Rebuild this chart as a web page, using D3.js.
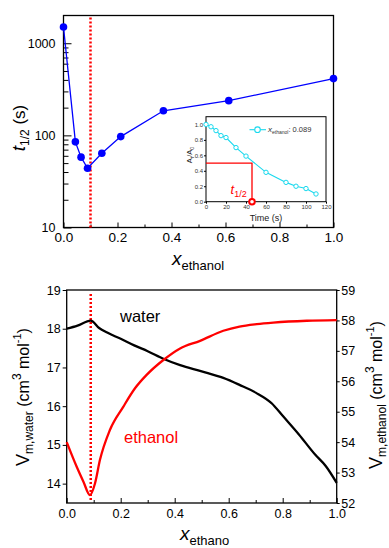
<!DOCTYPE html>
<html>
<head>
<meta charset="utf-8">
<script src="https://cdn.jsdelivr.net/npm/d3@7"></script>
<style>
  body { margin: 0; background: #fff; }
  svg { display: block; font-family: Arial, "Liberation Sans", sans-serif; }
  .axis path, .axis line { stroke: #000; }
</style>
</head>
<body>
<svg id="chart" width="389" height="548"></svg>
<script>
// top: half-life vs ethanol mole fraction
const xEthanol = [0, 0.044, 0.065, 0.089, 0.142, 0.212, 0.37, 0.612, 1.0];
const tHalf = [1500, 85, 58, 44, 64, 97, 185, 238, 413];

// inset: decay at x_ethanol = 0.089
const insetTime = [0, 5, 10, 15, 20, 30, 40, 60, 80, 90, 100, 110];
const insetA = [1.0, 0.97, 0.92, 0.855, 0.83, 0.70, 0.59, 0.38, 0.25, 0.20, 0.17, 0.10];
const tHalfMark = 46;

// bottom: partial molar volumes
const waterX = [0, 0.04, 0.089, 0.12, 0.15, 0.2, 0.25, 0.3, 0.36, 0.42, 0.5, 0.58, 0.64, 0.7, 0.76, 0.8, 0.86, 0.92, 0.96, 1.0];
const waterV = [18.0, 18.08, 18.21, 18.02, 17.9, 17.74, 17.57, 17.42, 17.22, 17.06, 16.9, 16.73, 16.55, 16.35, 16.07, 15.75, 15.27, 14.75, 14.45, 14.02];
const ethX = [0, 0.037, 0.062, 0.086, 0.105, 0.123, 0.16, 0.21, 0.253, 0.296, 0.358, 0.42, 0.494, 0.58, 0.64, 0.704, 0.765, 0.889, 1.0];
const ethV = [54.0, 53.19, 52.7, 52.26, 52.65, 53.41, 54.4, 55.17, 55.77, 56.21, 56.7, 57.08, 57.33, 57.66, 57.8, 57.88, 57.93, 57.99, 58.01];

const svg = d3.select("#chart");
const fontFam = "Arial, 'Liberation Sans'";

// ---------- top chart ----------
const x1 = d3.scaleLinear().domain([0, 1]).range([63.5, 333.5]);
const y1 = d3.scaleLog().domain([10, 2000]).range([227.5, 15.5]);

const topG = svg.append("g");

topG.append("rect")
  .attr("x", x1(0)).attr("y", y1(2000))
  .attr("width", x1(1) - x1(0)).attr("height", y1(10) - y1(2000))
  .attr("fill", "none").attr("stroke", "#000").attr("stroke-width", 1.3);

const minorLog = [20, 30, 40, 50, 60, 70, 80, 90, 200, 300, 400, 500, 600, 700, 800, 900];
topG.append("g").attr("class", "axis")
  .attr("transform", `translate(${x1(0)},0)`)
  .call(d3.axisLeft(y1).tickValues(minorLog).tickSize(-5).tickFormat(""))
  .call(g => g.select(".domain").remove());
topG.append("g").attr("class", "axis")
  .attr("transform", `translate(${x1(0)},0)`)
  .call(d3.axisLeft(y1).tickValues([10, 100, 1000]).tickSize(-8).tickPadding(8).tickFormat(d3.format("d")))
  .call(g => g.select(".domain").remove())
  .call(g => g.selectAll("text").attr("font-size", 12.5).attr("font-family", fontFam));

topG.append("g").attr("class", "axis")
  .attr("transform", `translate(0,${y1(10)})`)
  .call(d3.axisBottom(x1).tickValues([0.1, 0.3, 0.5, 0.7, 0.9]).tickSize(-3).tickFormat(""))
  .call(g => g.select(".domain").remove());
topG.append("g").attr("class", "axis")
  .attr("transform", `translate(0,${y1(10)})`)
  .call(d3.axisBottom(x1).ticks(5).tickSize(-5).tickPadding(5).tickFormat(d3.format(".1f")))
  .call(g => g.select(".domain").remove())
  .call(g => g.selectAll("text").attr("font-size", 13.5).attr("font-family", fontFam));

// dotted marker
topG.append("line")
  .attr("x1", x1(0.1)).attr("x2", x1(0.1))
  .attr("y1", y1(2000) + 2).attr("y2", y1(10))
  .attr("stroke", "#f00").attr("stroke-width", 2.5).attr("stroke-dasharray", "2,2");

const pts = xEthanol.map((d, i) => [d, tHalf[i]]);
topG.append("path")
  .datum(pts)
  .attr("fill", "none").attr("stroke", "#0000ff").attr("stroke-width", 1.3)
  .attr("d", d3.line().x(d => x1(d[0])).y(d => y1(d[1])));
topG.selectAll(".dot").data(pts).enter().append("circle")
  .attr("cx", d => x1(d[0])).attr("cy", d => y1(d[1])).attr("r", 3.8)
  .attr("fill", "#0000ff");

// axis titles
topG.append("text")
  .attr("transform", "translate(25,128) rotate(-90)")
  .attr("text-anchor", "middle")
  .call(t => {
    t.append("tspan").attr("font-style", "italic").attr("font-size", 19).text("t");
    t.append("tspan").attr("font-size", 12).attr("dy", 4).text("1/2");
    t.append("tspan").attr("font-size", 17).attr("dy", -4).text(" (s)");
  });
topG.append("text")
  .attr("x", 198).attr("y", 265).attr("text-anchor", "middle")
  .call(t => {
    t.append("tspan").attr("font-style", "italic").attr("font-size", 19).text("x");
    t.append("tspan").attr("font-size", 13).attr("dy", 5).text("ethanol");
  });

// ---------- inset ----------
const xi = d3.scaleLinear().domain([0, 120]).range([206, 326]);
const yi = d3.scaleLinear().domain([0, 1.1]).range([201.7, 116.7]);
const inset = svg.append("g");
inset.append("rect")
  .attr("x", xi(0)).attr("y", yi(1.1))
  .attr("width", xi(120) - xi(0)).attr("height", yi(0) - yi(1.1))
  .attr("fill", "#fff").attr("stroke", "#000").attr("stroke-width", 1);
inset.append("g").attr("class", "axis")
  .attr("transform", `translate(${xi(0)},0)`)
  .call(d3.axisLeft(yi).tickValues([0, 0.2, 0.4, 0.6, 0.8, 1.0]).tickSize(2).tickPadding(1).tickFormat(d3.format(".1f")))
  .call(g => g.select(".domain").remove())
  .call(g => g.selectAll("text").attr("font-size", 6).attr("font-family", fontFam).attr("fill", "#333"));
inset.append("g").attr("class", "axis")
  .attr("transform", `translate(0,${yi(0)})`)
  .call(d3.axisBottom(xi).tickValues([0, 20, 40, 60, 80, 100, 120]).tickSize(2).tickPadding(1))
  .call(g => g.select(".domain").remove())
  .call(g => g.selectAll("text").attr("font-size", 6).attr("font-family", fontFam).attr("fill", "#333"));

inset.append("text")
  .attr("x", 266).attr("y", 220.5).attr("text-anchor", "middle")
  .attr("font-size", 9).attr("fill", "#222").text("Time (s)");
inset.append("text")
  .attr("transform", "translate(192,155) rotate(-90)")
  .attr("text-anchor", "middle").attr("font-size", 7.5).attr("fill", "#222")
  .call(t => {
    t.append("tspan").text("A");
    t.append("tspan").attr("font-size", 5).attr("dy", 2).text("t");
    t.append("tspan").attr("dy", -2).text("/A");
    t.append("tspan").attr("font-size", 5).attr("dy", 2).text("0");
  });

// half-life construction
inset.append("path")
  .attr("fill", "none").attr("stroke", "#f00").attr("stroke-width", 1.3)
  .attr("d", `M${xi(0)},${yi(0.5)}H${xi(tHalfMark)}V${yi(0)}`);

const cyan = "#19d9ee";
const ipts = insetTime.map((d, i) => [d, insetA[i]]);
inset.append("path")
  .datum(ipts)
  .attr("fill", "none").attr("stroke", cyan).attr("stroke-width", 1.1)
  .attr("d", d3.line().x(d => xi(d[0])).y(d => yi(d[1])));
inset.selectAll(".idot").data(ipts).enter().append("circle")
  .attr("cx", d => xi(d[0])).attr("cy", d => yi(d[1])).attr("r", 2.2)
  .attr("fill", "#fff").attr("stroke", cyan).attr("stroke-width", 1);

inset.append("circle")
  .attr("cx", xi(tHalfMark)).attr("cy", yi(0)).attr("r", 2.8)
  .attr("fill", "#fff").attr("stroke", "#f00").attr("stroke-width", 2);

inset.append("text")
  .attr("x", 230.5).attr("y", 194).attr("fill", "#f00")
  .call(t => {
    t.append("tspan").attr("font-style", "italic").attr("font-size", 13).text("t");
    t.append("tspan").attr("font-size", 9).attr("dy", 3).text("1/2");
  });

// legend
inset.append("line")
  .attr("x1", 249.5).attr("x2", 266).attr("y1", 129.7).attr("y2", 129.7)
  .attr("stroke", cyan).attr("stroke-width", 1.1);
inset.append("circle")
  .attr("cx", 257.5).attr("cy", 129.7).attr("r", 2.8)
  .attr("fill", "#fff").attr("stroke", cyan).attr("stroke-width", 1.1);
inset.append("text")
  .attr("x", 268).attr("y", 132).attr("fill", "#333")
  .call(t => {
    t.append("tspan").attr("font-style", "italic").attr("font-size", 8).text("x");
    t.append("tspan").attr("font-size", 5).attr("dy", 1.5).text("ethanol");
    t.append("tspan").attr("font-size", 7.5).attr("dy", -1.5).text(": 0.089");
  });

// ---------- bottom chart ----------
const x2 = d3.scaleLinear().domain([0, 1]).range([66.7, 336.7]);
const yL = d3.scaleLinear().domain([13.5, 19]).range([503, 290]);
const yR = d3.scaleLinear().domain([52, 59]).range([503, 290]);

const bot = svg.append("g");
bot.append("rect")
  .attr("x", x2(0)).attr("y", yL(19))
  .attr("width", x2(1) - x2(0)).attr("height", yL(13.5) - yL(19))
  .attr("fill", "none").attr("stroke", "#000").attr("stroke-width", 1.3);

bot.append("g").attr("class", "axis")
  .attr("transform", `translate(${x2(0)},0)`)
  .call(d3.axisLeft(yL).tickValues([14, 15, 16, 17, 18, 19]).tickSize(4).tickPadding(2).tickFormat(d3.format("d")))
  .call(g => g.select(".domain").remove())
  .call(g => g.selectAll("text").attr("font-size", 12.5).attr("font-family", fontFam));
bot.append("g").attr("class", "axis")
  .attr("transform", `translate(${x2(1)},0)`)
  .call(d3.axisRight(yR).ticks(7).tickSize(3).tickPadding(1.5).tickFormat(d3.format("d")))
  .call(g => g.select(".domain").remove())
  .call(g => g.selectAll("text").attr("font-size", 12.5).attr("font-family", fontFam));
bot.append("g").attr("class", "axis")
  .attr("transform", `translate(0,${yL(13.5)})`)
  .call(d3.axisBottom(x2).tickValues([0.1, 0.3, 0.5, 0.7, 0.9]).tickSize(-3).tickFormat(""))
  .call(g => g.select(".domain").remove());
bot.append("g").attr("class", "axis")
  .attr("transform", `translate(0,${yL(13.5)})`)
  .call(d3.axisBottom(x2).ticks(5).tickSize(-5).tickPadding(6).tickFormat(d3.format(".1f")))
  .call(g => g.select(".domain").remove())
  .call(g => g.selectAll("text").attr("font-size", 12.5).attr("font-family", fontFam));

bot.append("line")
  .attr("x1", x2(0.089)).attr("x2", x2(0.089))
  .attr("y1", yL(19) + 4).attr("y2", yL(13.5) - 2)
  .attr("stroke", "#f00").attr("stroke-width", 2.5).attr("stroke-dasharray", "2,2");

const curve = d3.curveMonotoneX;
bot.append("path")
  .datum(waterX.map((d, i) => [d, waterV[i]]))
  .attr("fill", "none").attr("stroke", "#000").attr("stroke-width", 2.3)
  .attr("d", d3.line().curve(curve).x(d => x2(d[0])).y(d => yL(d[1])));
bot.append("path")
  .datum(ethX.map((d, i) => [d, ethV[i]]))
  .attr("fill", "none").attr("stroke", "#f00").attr("stroke-width", 2.3)
  .attr("d", d3.line().curve(curve).x(d => x2(d[0])).y(d => yR(d[1])));

bot.append("text").attr("x", 120).attr("y", 321.7).attr("font-size", 16.5).text("water");
bot.append("text").attr("x", 124).attr("y", 442.7).attr("font-size", 16.5).attr("fill", "#f00").text("ethanol");

function volumeLabel(t, sub) {
  t.append("tspan").attr("font-size", 18).text("V");
  t.append("tspan").attr("font-size", 12).attr("dy", 3.5).text(sub);
  t.append("tspan").attr("font-size", 16).attr("dy", -3.5).text("  (cm");
  t.append("tspan").attr("font-size", 12).attr("dy", -8).text("3");
  t.append("tspan").attr("font-size", 16).attr("dy", 8).text(" mol");
  t.append("tspan").attr("font-size", 11).attr("dy", -8).text("-1");
  t.append("tspan").attr("font-size", 16).attr("dy", 8).text(")");
}
bot.append("text")
  .attr("transform", "translate(29,397) rotate(-90)")
  .attr("text-anchor", "middle")
  .call(t => volumeLabel(t, "m,water"));
bot.append("text")
  .attr("transform", "translate(382,395) rotate(-90)")
  .attr("text-anchor", "middle")
  .call(t => volumeLabel(t, "m,ethanol"));

bot.append("text")
  .attr("x", 180).attr("y", 540)
  .call(t => {
    t.append("tspan").attr("font-style", "italic").attr("font-size", 19).text("x");
    t.append("tspan").attr("font-size", 13).attr("dy", 5).text("ethano");
  });
</script>
</body>
</html>
